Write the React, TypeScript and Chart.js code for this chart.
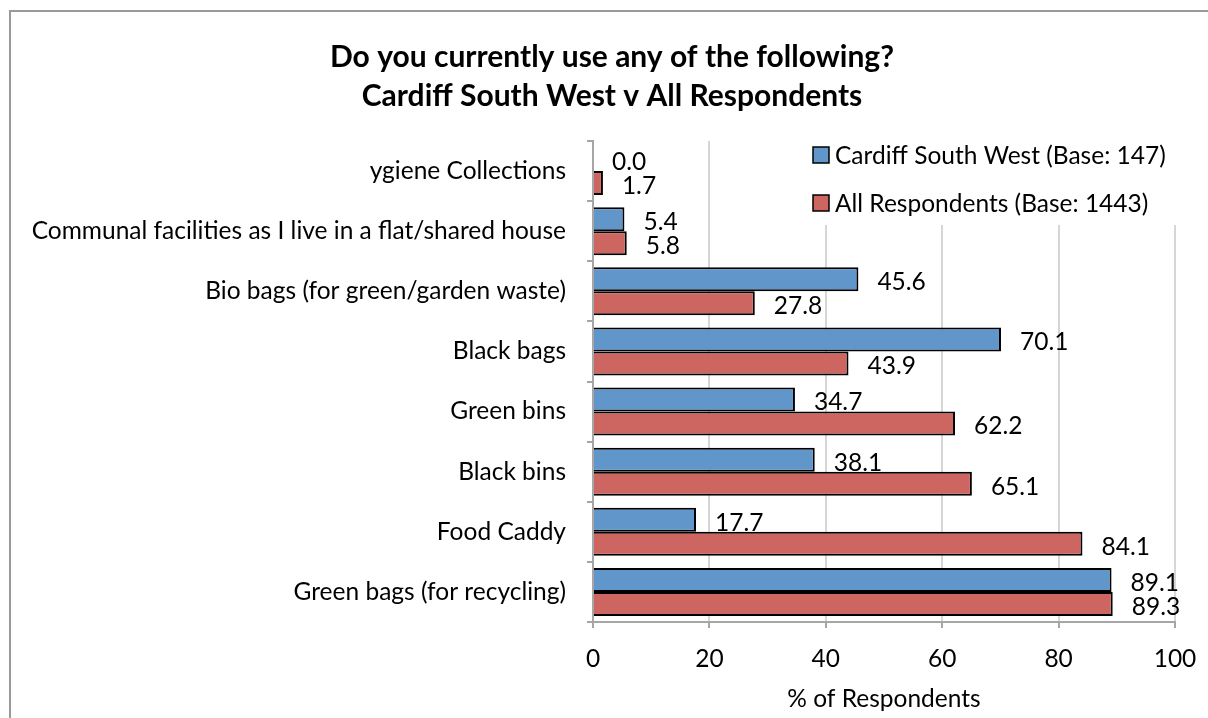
import React, { useEffect, useRef } from "react";
import { Chart, registerables } from "chart.js";

Chart.register(...registerables);

const categories = [
  "ygiene Collections",
  "Communal facilities as I live in a flat/shared house",
  "Bio bags (for green/garden waste)",
  "Black bags",
  "Green bins",
  "Black bins",
  "Food Caddy",
  "Green bags (for recycling)",
];
const cardiffSouthWest = [0.0, 5.4, 45.6, 70.1, 34.7, 38.1, 17.7, 89.1];
const allRespondents = [1.7, 5.8, 27.8, 43.9, 62.2, 65.1, 84.1, 89.3];
const seriesLabels = ["Cardiff South West (Base: 147)", "All Respondents (Base: 1443)"];
const seriesColors = ["#6096C9", "#CD6660"];
const titleLines = ["Do you currently use any of the following?", "Cardiff South West v All Respondents"];
const xTicks = [0, 20, 40, 60, 80, 100];
const xAxisTitle = "% of Respondents";

const FONT = "Lato, 'Noto Sans', sans-serif";
const FS = 24.5;
const TITLE_SHIFT = 49;

const dataLabelPlugin = {
  id: "dataLabels",
  afterDatasetsDraw(chart: any) {
    const ctx = chart.ctx;
    ctx.save();
    ctx.font = `${FS}px ${FONT}`;
    ctx.fillStyle = "#000";
    ctx.textAlign = "left";
    ctx.textBaseline = "middle";
    chart.data.datasets.forEach((ds: any, di: number) => {
      const meta = chart.getDatasetMeta(di);
      meta.data.forEach((bar: any, i: number) => {
        const v = ds.data[i];
        ctx.fillText(Number(v).toFixed(1), bar.x + 19, bar.y + 3);
      });
    });
    ctx.restore();
  },
};

const titleShiftPlugin = {
  id: "titleShift",
  afterLayout(chart: any) {
    const tb = chart.titleBlock;
    if (tb) {
      tb.left = tb.left + TITLE_SHIFT;
    }
  },
};

const legendPlugin = {
  id: "boxLegend",
  afterDraw(chart: any) {
    const ctx = chart.ctx;
    const area = chart.chartArea;
    ctx.save();
    const left = area.right - 375;
    ctx.fillStyle = "#fff";
    ctx.fillRect(left, area.top - 1, 382, 85);
    ctx.font = `${FS}px ${FONT}`;
    ctx.textAlign = "left";
    ctx.textBaseline = "middle";
    chart.data.datasets.forEach((ds: any, di: number) => {
      const cy = area.top + 14 + di * 48;
      const bx = left + 13;
      ctx.fillStyle = ds.backgroundColor;
      ctx.fillRect(bx, cy - 8, 16, 16);
      ctx.strokeStyle = "#000";
      ctx.lineWidth = 1.5;
      ctx.strokeRect(bx, cy - 8, 16, 16);
      ctx.fillStyle = "#000";
      ctx.fillText(ds.label, bx + 22, cy + 1);
    });
    ctx.restore();
  },
};

export default function App() {
  const ref = useRef<HTMLCanvasElement>(null);
  useEffect(() => {
    if (!ref.current) return;
    const chart = new Chart(ref.current, {
      type: "bar",
      data: {
        labels: categories,
        datasets: [
          {
            label: seriesLabels[0],
            data: cardiffSouthWest,
            backgroundColor: seriesColors[0],
            borderColor: "#000",
            borderWidth: 2,
            categoryPercentage: 0.8,
            barPercentage: 1.0,
          },
          {
            label: seriesLabels[1],
            data: allRespondents,
            backgroundColor: seriesColors[1],
            borderColor: "#000",
            borderWidth: 2,
            categoryPercentage: 0.8,
            barPercentage: 1.0,
          },
        ],
      },
      options: {
        indexAxis: "y",
        animation: false,
        responsive: false,
        layout: { padding: { left: 0, right: 33, top: 0, bottom: 0 } },
        plugins: {
          legend: { display: false },
          tooltip: { enabled: false },
          title: {
            display: true,
            text: titleLines,
            color: "#000",
            font: { family: FONT, size: 30, weight: "bold", lineHeight: 1.3 },
            padding: { top: 38, bottom: 25 },
          },
        },
        scales: {
          x: {
            type: "linear",
            min: 0,
            max: 100,
            afterBuildTicks: (scale: any) => {
              scale.ticks = xTicks.map((v) => ({ value: v }));
            },
            afterFit: (scale: any) => {
              scale.height = 96;
              scale.paddingLeft = 0;
              scale.paddingRight = 0;
            },
            ticks: {
              color: "#000",
              font: { family: FONT, size: FS, lineHeight: 1.2 },
              padding: 16,
            },
            grid: {
              color: "#d6d6d6",
              lineWidth: 2,
              tickColor: "#a6a6a6",
              tickLength: 6,
            },
            border: { display: true, color: "#a6a6a6", width: 2 },
            title: {
              display: true,
              text: xAxisTitle,
              color: "#000",
              font: { family: FONT, size: FS, lineHeight: 1.2 },
              padding: { top: 0, bottom: 4 },
            },
          },
          y: {
            type: "category",
            afterFit: (scale: any) => {
              scale.width = 593;
              scale.paddingTop = 0;
              scale.paddingBottom = 0;
            },
            ticks: {
              color: "#000",
              font: { family: FONT, size: FS },
              padding: 21,
              autoSkip: false,
            },
            grid: {
              display: true,
              offset: true,
              drawOnChartArea: false,
              drawTicks: true,
              tickLength: 6,
              tickColor: "#a6a6a6",
              lineWidth: 2,
            },
            border: { display: true, color: "#a6a6a6", width: 2 },
          },
        },
      },
      plugins: [titleShiftPlugin, dataLabelPlugin, legendPlugin],
    } as any);
    return () => chart.destroy();
  }, []);

  return (
    <div style={{ position: "fixed", left: 0, top: 0, width: 1208, height: 718, background: "#fff", overflow: "hidden" }}>
      <div
        style={{
          position: "absolute",
          left: 9,
          top: 10,
          width: 1300,
          height: 800,
          borderLeft: "2px solid #9a9a9a",
          borderTop: "2px solid #9a9a9a",
        }}
      />
      <canvas ref={ref} width={1208} height={718} style={{ position: "absolute", left: 0, top: 0 }} />
    </div>
  );
}
